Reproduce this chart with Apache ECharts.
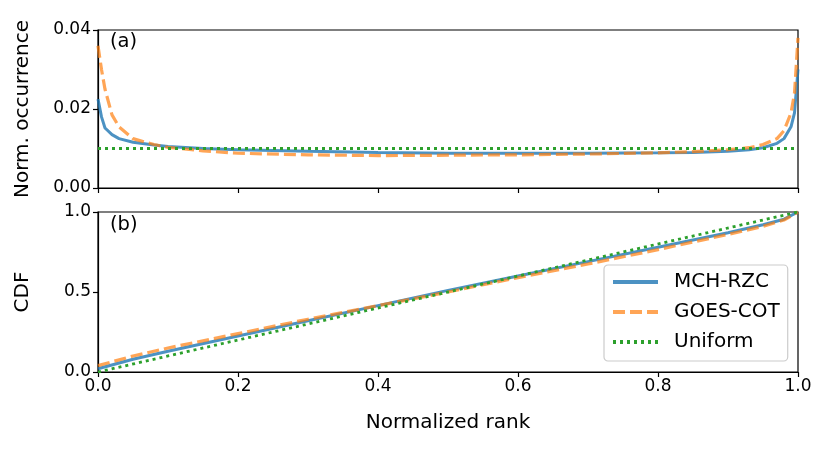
<!DOCTYPE html>
<html><head><meta charset="utf-8">
<script src="https://cdn.jsdelivr.net/npm/echarts@6/dist/echarts.min.js"></script>
<style>html,body{margin:0;padding:0;background:#fff}#c{width:831px;height:451px}</style>
</head><body><div id="c"></div>
<script>
// ---- data ----
const pdfRank = [0, 0.005, 0.01, 0.02, 0.03, 0.05, 0.08, 0.1, 0.15, 0.2, 0.3, 0.4, 0.5, 0.6, 0.7, 0.8, 0.85, 0.9, 0.93, 0.95, 0.97, 0.98, 0.99, 0.995, 1.0];
const pdfMCH  = [0.0225, 0.018, 0.0152, 0.0135, 0.0125, 0.0116, 0.0109, 0.0105, 0.0100, 0.0097, 0.0093, 0.0090, 0.0088, 0.0088, 0.0088, 0.0089, 0.0090, 0.0093, 0.0097, 0.0102, 0.0113, 0.0125, 0.0155, 0.0190, 0.0300];
const pdfGOES = [0.0360, 0.030, 0.0250, 0.0185, 0.0155, 0.0125, 0.0110, 0.0103, 0.0094, 0.0088, 0.0084, 0.0082, 0.0083, 0.0084, 0.0086, 0.0089, 0.0092, 0.0097, 0.0102, 0.0110, 0.0125, 0.0145, 0.0190, 0.0240, 0.0380];
const pdfUniform = [0.01, 0.01];
const uniformRank = [0, 1];

const cdfRank = [0, 0.05, 0.1, 0.2, 0.3, 0.4, 0.5, 0.6, 0.7, 0.8, 0.9, 0.95, 0.98, 1.0];
const cdfMCH  = [0.02, 0.08, 0.13, 0.225, 0.32, 0.415, 0.51, 0.60, 0.69, 0.78, 0.87, 0.92, 0.955, 1.0];
const cdfGOES = [0.04, 0.10, 0.15, 0.24, 0.33, 0.415, 0.50, 0.59, 0.675, 0.765, 0.86, 0.91, 0.95, 1.0];
const cdfUniform = [0, 1];

const names = ['MCH-RZC', 'GOES-COT', 'Uniform'];

const pair = (xs, ys) => xs.map((x, i) => [x, ys[i]]);
const FONT = 'DejaVu Sans';
const TICK = 17, LABEL = 20;
const blue = '#1f77b4', orange = '#ff7f0e', green = '#2ca02c';

const gridL = 98, gridW = 700;
const xAxisBase = (gi, labels) => ({
  type: 'value', gridIndex: gi, min: 0, max: 1, interval: 0.2,
  axisLine: { show: true, onZero: false, lineStyle: { color: '#000', width: 1.2 } },
  axisTick: { show: true, length: 5, lineStyle: { color: '#000', width: 1.2 } },
  axisLabel: { show: labels, color: '#000', fontFamily: FONT, fontSize: TICK, margin: 6,
               formatter: v => v.toFixed(1) },
  splitLine: { show: false },
  name: labels ? 'Normalized rank' : '', nameLocation: 'middle', nameGap: 41,
  nameTextStyle: { color: '#000', fontFamily: FONT, fontSize: LABEL }
});
const yAxisBase = (gi, max, interval, dec, name) => ({
  type: 'value', gridIndex: gi, min: 0, max: max, interval: interval,
  axisLine: { show: true, lineStyle: { color: '#000', width: 1.2 } },
  axisTick: { show: true, length: 5, lineStyle: { color: '#000', width: 1.2 } },
  axisLabel: { color: '#000', fontFamily: FONT, fontSize: TICK, margin: 7,
               formatter: v => v.toFixed(dec) },
  splitLine: { show: false },
  name: name, nameLocation: 'middle', nameGap: 65,
  nameTextStyle: { color: '#000', fontFamily: FONT, fontSize: LABEL }
});

const lineS = (name, xi, data, color, type, width, opacity) => ({
  name, type: 'line', xAxisIndex: xi, yAxisIndex: xi, data, showSymbol: false, symbol: 'none',
  smooth: false, animation: false,
  lineStyle: { color, type, width, opacity, cap: 'butt' },
  itemStyle: { color }
});

const chart = echarts.init(document.getElementById('c'), null, { renderer: 'canvas' });
chart.setOption({
  backgroundColor: '#fff',
  animation: false,
  grid: [
    { left: gridL, width: gridW, top: 30, height: 158, show: true, borderColor: '#000', borderWidth: 1.2, backgroundColor: 'transparent' },
    { left: gridL, width: gridW, top: 212, height: 160, show: true, borderColor: '#000', borderWidth: 1.2, backgroundColor: 'transparent' }
  ],
  xAxis: [xAxisBase(0, false), xAxisBase(1, true)],
  yAxis: [yAxisBase(0, 0.04, 0.02, 2, 'Norm. occurrence'), yAxisBase(1, 1.0, 0.5, 1, 'CDF')],
  legend: {
    data: names, orient: 'vertical', left: 604, top: 265,
    padding: [7, 8, 9, 7], itemGap: 10, itemWidth: 45, itemHeight: 14,
    backgroundColor: 'rgba(255,255,255,0.8)', borderColor: '#cccccc', borderWidth: 1.2, borderRadius: 4,
    textStyle: { color: '#000', fontFamily: FONT, fontSize: LABEL, lineHeight: 20, padding: [0, 0, 0, 11] },
    itemStyle: { opacity: 0 },
    lineStyle: { width: 4 },
    selectedMode: false
  },
  graphic: [
    { type: 'text', left: 110, top: 32, style: { text: '(a)', font: '19.5px "DejaVu Sans"', fill: '#000' } },
    { type: 'text', left: 110, top: 215, style: { text: '(b)', font: '19.5px "DejaVu Sans"', fill: '#000' } }
  ],
  series: [
    lineS('MCH-RZC', 0, pair(pdfRank, pdfMCH), blue, 'solid', 3, 0.8),
    lineS('GOES-COT', 0, pair(pdfRank, pdfGOES), orange, [12, 5], 3.2, 0.7),
    lineS('Uniform', 0, pair(uniformRank, pdfUniform), green, [3, 4], 2.8, 1),
    lineS('MCH-RZC', 1, pair(cdfRank, cdfMCH), blue, 'solid', 3, 0.8),
    lineS('GOES-COT', 1, pair(cdfRank, cdfGOES), orange, [12, 5], 3.2, 0.7),
    lineS('Uniform', 1, pair(uniformRank, cdfUniform), green, [3, 4], 2.8, 1)
  ]
});
</script></body></html>
